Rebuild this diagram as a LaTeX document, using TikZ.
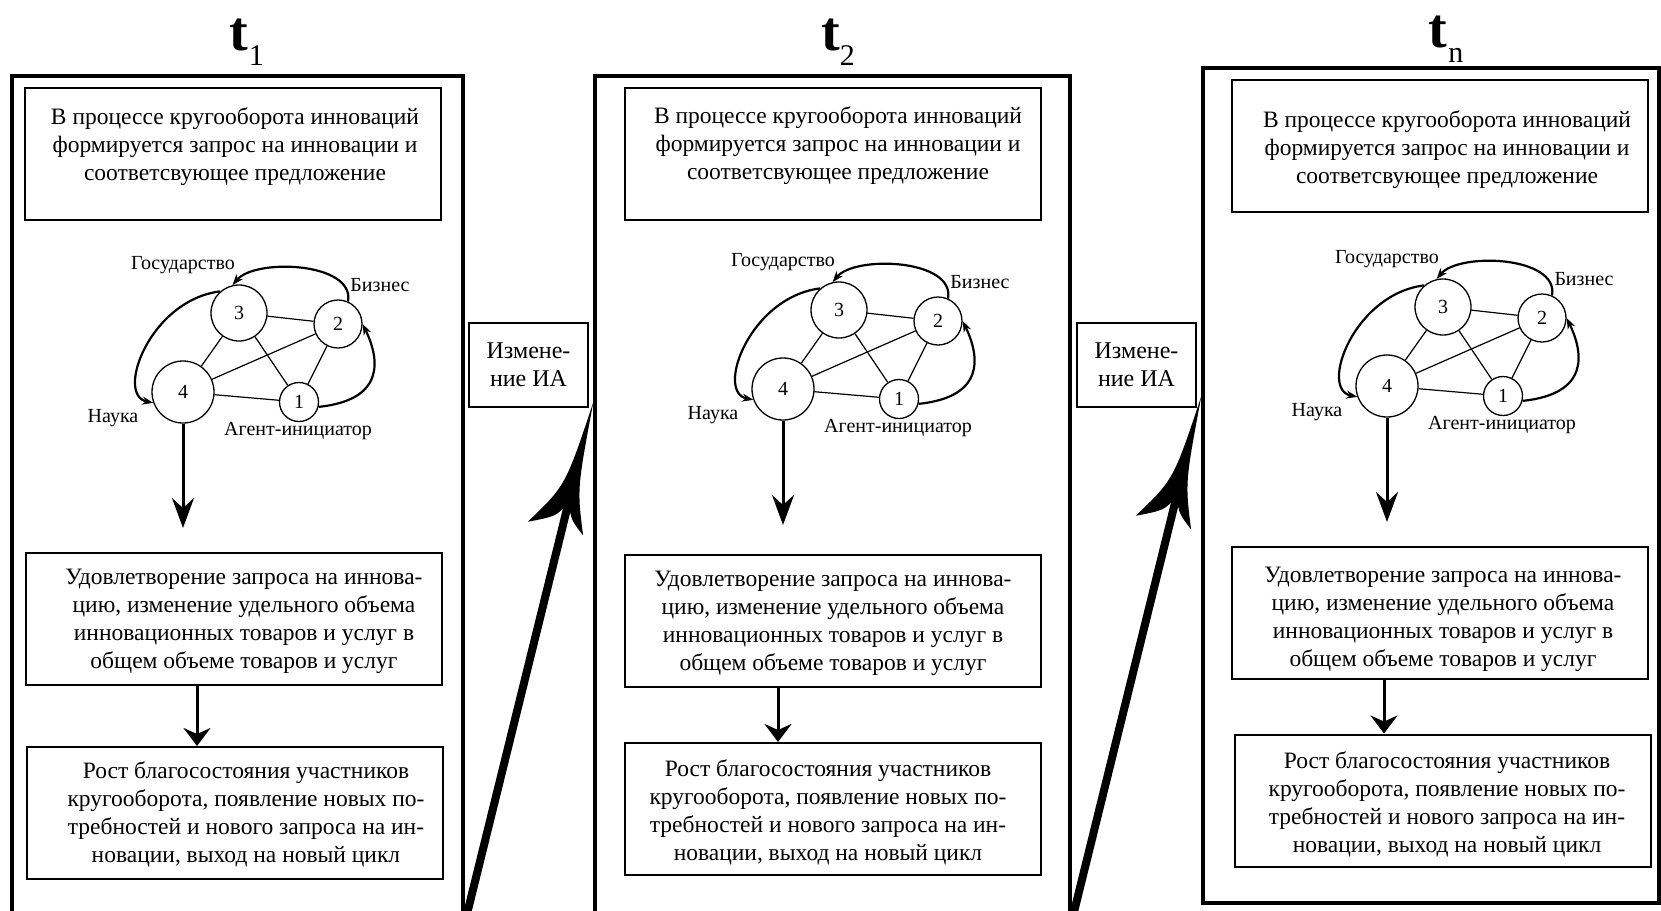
\documentclass[tikz,border=0pt]{standalone}
\usepackage{fontspec}
\setmainfont{Liberation Serif}
\setsansfont{Liberation Sans}
\usetikzlibrary{arrows.meta,calc}
\newcommand\BigArr[3]{%
 \coordinate (#1b) at ($(#3)!132pt!(#2)$);
 \coordinate (#1n) at ($(#3)!104pt!(#2)$);
 \coordinate (#1a) at ($(#3)!88pt!(#2)$);
 \coordinate (#1c) at ($(#3)!120pt!(#2)$);
 \coordinate (#1L) at ($(#1b)!35pt!90:(#3)$);
 \coordinate (#1R) at ($(#1b)!22pt!-90:(#3)$);
 \coordinate (#1qL) at ($(#1a)!7pt!90:(#3)$);
 \coordinate (#1qR) at ($(#1a)!5pt!-90:(#3)$);
 \coordinate (#1pL) at ($(#1c)!9pt!90:(#3)$);
 \coordinate (#1pR) at ($(#1c)!7pt!-90:(#3)$);
 \draw[line width=8pt] (#2) -- (#1n);
 \fill (#3) .. controls (#1qL) .. (#1L) .. controls (#1pL) .. (#1n) .. controls (#1pR) .. (#1R) .. controls (#1qR) .. (#3) -- cycle;
}
\tikzset{
 panel/.style={draw, line width=3.3pt, inner sep=0pt},
 bx/.style={draw, line width=2pt, inner sep=0pt, minimum width=416pt, minimum height=132pt},
 tx/.style={align=center, inner sep=0pt, font=\fontsize{23.5}{28}\selectfont},
 iabox/.style={draw, line width=2.3pt, align=center, inner sep=0pt, minimum width=119pt, minimum height=84pt,
   font=\fontsize{24}{28}\selectfont},
 gn/.style={circle, draw, line width=1.3pt, inner sep=0pt, font=\fontsize{20}{20}\selectfont},
 gl/.style={inner sep=0pt, font=\fontsize{20}{24}\selectfont},
 ge/.style={line width=1.2pt},
 ga/.style={line width=2.2pt, -{Stealth[length=11pt,width=8pt]}},
 dnA/.style={line width=3pt, -{Stealth[length=30pt,width=22pt,inset=10pt]}},
 dnB/.style={line width=3pt, -{Stealth[length=18pt,width=27pt,inset=6pt]}},
 tlab/.style={inner sep=0pt, anchor=base, font=\bfseries\fontsize{56}{56}\selectfont},
}
\newcommand\subf[1]{\raisebox{-15pt}{\mdseries\fontsize{30}{30}\selectfont #1}}
\begin{document}
\begin{tikzpicture}[x=1pt,y=-1pt]
\path[use as bounding box, fill=white] (0,0) rectangle (1661,910);
\clip (0,0) rectangle (1661,910);

% time labels
\node[tlab] (t1) at (246.5,50) {t\kern1pt\subf{1}};
\node[tlab] (t2) at (838,50) {t\kern0pt\subf{2}};
\node[tlab] (tn) at (1446,47) {t\kern1pt\subf{n}};

% panels
\node[panel, minimum width=451pt, minimum height=854pt] (p1) at (237.5,503) {};
\node[panel, minimum width=475pt, minimum height=854pt] (p2) at (832.5,503) {};
\node[panel, minimum width=456pt, minimum height=835pt] (p3) at (1431,485.5) {};

% top boxes
\node[bx] (a-q) at (233,154) {};
\node[bx] (b-q) at (833,153.5) {};
\node[bx] (c-q) at (1440,145.5) {};
\node[tx] (a-qt) at (235,147) {В процессе кругооборота инноваций\\формируется запрос на инновации и\\соответсвующее предложение};
\node[tx] (b-qt) at (838,146) {В процессе кругооборота инноваций\\формируется запрос на инновации и\\соответсвующее предложение};
\node[tx] (c-qt) at (1447,150) {В процессе кругооборота инноваций\\формируется запрос на инновации и\\соответсвующее предложение};

% second boxes
\node[bx] (a-b2) at (233.5,618.5) {};
\node[bx] (b-b2) at (833,621) {};
\node[bx] (c-b2) at (1439.5,613) {};
\node[tx] (a-b2t) at (244,621) {Удовлетворение запроса на иннова-\\цию, изменение удельного объема\\инновационных товаров и услуг в\\общем объеме товаров и услуг};
\node[tx] (b-b2t) at (833,623) {Удовлетворение запроса на иннова-\\цию, изменение удельного объема\\инновационных товаров и услуг в\\общем объеме товаров и услуг};
\node[tx] (c-b2t) at (1443,619) {Удовлетворение запроса на иннова-\\цию, изменение удельного объема\\инновационных товаров и услуг в\\общем объеме товаров и услуг};

% third boxes
\node[bx] (a-b3) at (234.5,813) {};
\node[bx] (b-b3) at (833,809) {};
\node[bx] (c-b3) at (1443,800.5) {};
\node[tx] (a-b3t) at (246,814) {Рост благосостояния участников\\кругооборота, появление новых по-\\требностей и нового запроса на ин-\\новации, выход на новый цикл};
\node[tx] (b-b3t) at (828,812) {Рост благосостояния участников\\кругооборота, появление новых по-\\требностей и нового запроса на ин-\\новации, выход на новый цикл};
\node[tx] (c-b3t) at (1447,804) {Рост благосостояния участников\\кругооборота, появление новых по-\\требностей и нового запроса на ин-\\новации, выход на новый цикл};

% arrows between box 2 and box 3
\coordinate (a-x) at (197,0);
\coordinate (b-x) at (778,0);
\coordinate (c-x) at (1384,0);
\draw[dnB] (a-b2.south -| a-x) -- (a-b3.north -| a-x);
\draw[dnB] (b-b2.south -| b-x) -- (b-b3.north -| b-x);
\draw[dnB] (c-b2.south -| c-x) -- (c-b3.north -| c-x);

% graphs
\foreach \p/\sx/\sy in {a/0/0, b/600/-3, c/1204/-6}{
 \begin{scope}[shift={(\sx,\sy)}]
  \node[gn, minimum size=56pt] (\p3) at (239,313) {3};
  \node[gn, minimum size=48pt] (\p2) at (338,324) {2};
  \node[gn, minimum size=62pt] (\p4) at (183,392) {4};
  \node[gn, minimum size=39pt] (\p1) at (299,402) {1};
  \node[gl] (\p-gos) at (183,265) {Государство};
  \node[gl] (\p-biz) at (380,285) {Бизнес};
  \node[gl] (\p-nau) at (113,418) {Наука};
  \node[gl] (\p-age) at (298,431) {Агент-инициатор};
  \draw[ge] (\p3) -- (\p2);
  \draw[ge] (\p3) -- (\p4);
  \draw[ge] (\p3) -- (\p1);
  \draw[ge] (\p4) -- (\p2);
  \draw[ge] (\p4) -- (\p1);
  \draw[ge] (\p2) -- (\p1);
  \draw[ga] (\p2.66) .. controls (355,262) and (255,258) .. (\p3.103);
  \draw[ga] (\p3.131) .. controls (150,300) and (115,395) .. (\p4.200);
  \draw[ga] (\p1.-14) .. controls (385,400) and (380,360) .. (\p2.east);
  \coordinate (\p-tip) at (183,528);
  \draw[dnA] (\p4) -- (\p-tip);
 \end{scope}
}

% change boxes
\node[iabox] (ia1) at (528.5,365) {Измене-\\ние ИА};
\node[iabox] (ia2) at (1136.5,365) {Измене-\\ние ИА};

% big arrows
\coordinate (y1) at (0,402);
\coordinate (y2) at (0,396);
\coordinate (s1) at (465.5,920);
\coordinate (s2) at (1072,920);
\coordinate (e1) at (p2.west |- y1);
\coordinate (e2) at (p3.west |- y2);
\BigArr{ha}{s1}{e1}
\BigArr{hb}{s2}{e2}
\end{tikzpicture}
\end{document}
